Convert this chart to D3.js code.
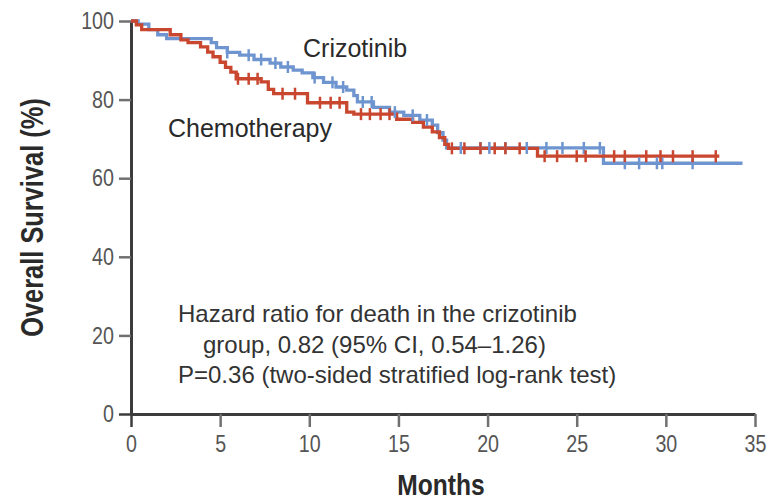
<!DOCTYPE html>
<html>
<head>
<meta charset="utf-8">
<script src="https://cdn.jsdelivr.net/npm/d3@7"></script>
<style>
  html, body { margin: 0; padding: 0; background: #fff; }
  svg { display: block; }
</style>
</head>
<body>
<svg id="chart" width="777" height="503"></svg>
<script>
// Kaplan-Meier overall survival, crizotinib vs chemotherapy
const crizTime = [0, 0.4, 1.0, 1.5, 2.0, 4.5, 4.8, 5.4, 6.1, 6.9, 7.8, 8.4, 9.1, 9.6, 10.2, 10.8, 11.5, 12.1, 12.5, 12.7, 13.6, 14.5, 15.3, 16.2, 16.9, 17.2, 17.5, 17.7, 26.5];
const crizSurv = [100, 99.2, 97.8, 96.5, 95.5, 94.5, 93.2, 92.0, 91.3, 90.2, 89.3, 88.3, 87.5, 86.8, 85.6, 84.4, 83.2, 82.4, 81.0, 79.4, 78.0, 76.8, 76.0, 74.8, 73.5, 71.6, 69.7, 67.7, 63.8];
const crizEnd = 34.3;
const crizCensor = [5.4, 6.6, 7.3, 8.1, 8.8, 10.3, 11.3, 11.9, 13.0, 13.5, 14.8, 15.8, 16.6, 18.5, 19.6, 20.1, 21.0, 22.2, 23.3, 24.2, 25.4, 26.3, 27.7, 28.5, 29.5, 29.8, 31.5];

const chemoTime = [0, 0.3, 0.6, 2.2, 2.8, 3.2, 3.9, 4.3, 4.6, 5.0, 5.3, 5.6, 5.9, 7.3, 7.7, 8.0, 9.9, 12.1, 12.5, 14.9, 15.8, 16.4, 16.9, 17.3, 17.6, 17.8, 22.8];
const chemoSurv = [100, 99.0, 97.8, 96.5, 95.2, 94.5, 93.4, 92.1, 90.9, 89.5, 88.2, 87.0, 85.3, 84.5, 82.6, 81.5, 79.2, 76.8, 76.3, 75.0, 74.2, 73.0, 71.8, 70.3, 68.6, 67.6, 65.6];
const chemoEnd = 33.0;
const chemoCensor = [6.0, 6.6, 7.1, 8.5, 9.2, 10.6, 11.2, 11.7, 12.9, 13.4, 14.0, 14.5, 18.0, 18.7, 19.6, 20.4, 21.0, 21.8, 23.2, 23.9, 25.0, 25.5, 27.1, 27.7, 28.9, 29.7, 30.4, 31.5, 32.8];

const xTicks = [0, 5, 10, 15, 20, 25, 30, 35];
const yTicks = [0, 20, 40, 60, 80, 100];

const annotationLines = [
  "Hazard ratio for death in the crizotinib",
  "group, 0.82 (95% CI, 0.54\u20131.26)",
  "P=0.36 (two-sided stratified log-rank test)"
];

const colors = { criz: "#6f95d0", chemo: "#c9462f" };
const sans = "'Liberation Sans', Arial, sans-serif";
const squeeze = 0.82; // horizontal compression for the narrow axis lettering

const svg = d3.select("#chart");
const x = d3.scaleLinear().domain([0, 35]).range([131, 755]);
const y = d3.scaleLinear().domain([0, 100]).range([414, 21]);

// Axes
const yAxis = d3.axisLeft(y).tickValues(yTicks).tickSize(12).tickSizeOuter(0).tickPadding(5);
const xAxis = d3.axisBottom(x).tickValues(xTicks).tickSize(13).tickSizeOuter(0).tickPadding(8);

const gy = svg.append("g").attr("transform", `translate(${x(0)},0)`).call(yAxis);
const gx = svg.append("g").attr("transform", `translate(0,${y(0)})`).call(xAxis);

[gx, gy].forEach(g => {
  g.select(".domain").attr("stroke", "#3c3c3c").attr("stroke-width", 3);
  g.selectAll(".tick line").attr("stroke", "#707070").attr("stroke-width", 2.5);
  g.selectAll(".tick text")
    .attr("fill", "#555")
    .style("font-family", sans)
    .style("font-size", "24px");
});
gx.selectAll(".tick text").attr("transform", `scale(${squeeze},1)`);
gy.selectAll(".tick text")
  .attr("x", -17 / squeeze)
  .attr("transform", `scale(${squeeze},1)`);
gx.select(".tick line").attr("stroke", "#3c3c3c");
gy.selectAll(".tick").filter(d => d === 0).select("line").attr("stroke", "#3c3c3c");

// Axis titles
svg.append("text")
  .attr("transform", `translate(43,${y(50)}) rotate(-90) scale(${squeeze},1)`)
  .attr("text-anchor", "middle")
  .attr("fill", "#2a2a2a")
  .style("font-family", sans)
  .style("font-weight", "bold")
  .style("font-size", "31px")
  .text("Overall Survival (%)");

svg.append("text")
  .attr("transform", `translate(${(x(0) + x(35)) / 2 - 2},495) scale(${squeeze},1)`)
  .attr("text-anchor", "middle")
  .attr("fill", "#2a2a2a")
  .style("font-family", sans)
  .style("font-weight", "bold")
  .style("font-size", "30px")
  .text("Months");

// Survival curves
function stepPoints(times, surv, end) {
  const pts = times.map((t, i) => [t, surv[i]]);
  pts.push([end, surv[surv.length - 1]]);
  return pts;
}
function survAt(times, surv, t) {
  const i = d3.bisectRight(times, t) - 1;
  return surv[Math.max(0, i)];
}

const line = d3.line().x(d => x(d[0])).y(d => y(d[1])).curve(d3.curveStepAfter);

const groups = [
  { key: "criz", times: crizTime, surv: crizSurv, end: crizEnd, censor: crizCensor },
  { key: "chemo", times: chemoTime, surv: chemoSurv, end: chemoEnd, censor: chemoCensor }
];

groups.forEach(gr => {
  svg.append("path")
    .datum(stepPoints(gr.times, gr.surv, gr.end))
    .attr("fill", "none")
    .attr("stroke", colors[gr.key])
    .attr("stroke-width", 3.3)
    .attr("d", line);
});

groups.forEach(gr => {
  svg.append("g").selectAll("line")
    .data(gr.censor)
    .join("line")
    .attr("x1", d => x(d)).attr("x2", d => x(d))
    .attr("y1", d => y(survAt(gr.times, gr.surv, d)) - 6)
    .attr("y2", d => y(survAt(gr.times, gr.surv, d)) + 6)
    .attr("stroke", colors[gr.key])
    .attr("stroke-width", 2.5);
});

// Curve labels
svg.append("text")
  .attr("x", 303).attr("y", 57)
  .attr("fill", "#2a2a2a")
  .style("font-family", sans)
  .style("font-size", "25px")
  .text("Crizotinib");

svg.append("text")
  .attr("x", 168).attr("y", 137)
  .attr("fill", "#2a2a2a")
  .style("font-family", sans)
  .style("font-size", "25px")
  .text("Chemotherapy");

// Hazard ratio note
const note = svg.append("text")
  .attr("fill", "#333")
  .style("font-family", sans)
  .style("font-size", "24px");
annotationLines.forEach((s, i) => {
  note.append("tspan")
    .attr("x", i === 1 ? 203 : 178)
    .attr("y", 322 + i * 30.5)
    .text(s);
});
</script>
</body>
</html>
